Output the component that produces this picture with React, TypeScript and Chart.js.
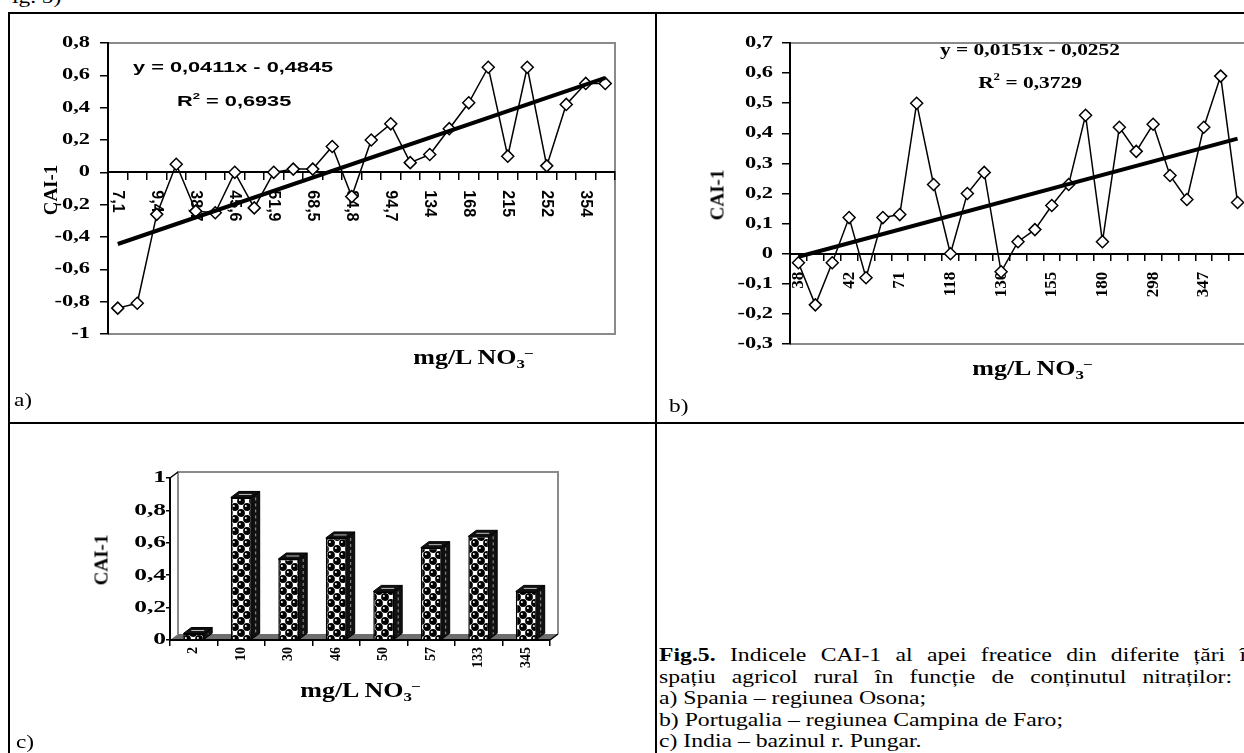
import React, { useEffect, useRef } from 'react';
import { Chart, registerables } from 'chart.js';

Chart.register(...registerables);

// ---------------- data ----------------
// a) Spania – regiunea Osona
const categoriesA = ['7,1', '', '9,4', '', '38,7', '', '45,6', '', '51,9', '', '68,5', '', '84,8', '', '94,7', '', '134', '', '168', '', '215', '', '252', '', '354', ''];
const valuesA = [-0.84, -0.81, -0.26, 0.05, -0.24, -0.25, 0, -0.22, 0, 0.02, 0.02, 0.16, -0.15, 0.2, 0.3, 0.06, 0.11, 0.27, 0.43, 0.65, 0.1, 0.65, 0.04, 0.42, 0.55, 0.55];
const trendCoefA = [0.0411, -0.4845]; // y = 0,0411x - 0,4845
const yRangeA = [-1, 0.8, 0.2];

// b) Portugalia – regiunea Campina de Faro
const categoriesB = ['38', '', '', '42', '', '', '71', '', '', '118', '', '', '130', '', '', '155', '', '', '180', '', '', '298', '', '', '347', '', ''];
const valuesB = [-0.03, -0.17, -0.03, 0.12, -0.08, 0.12, 0.13, 0.5, 0.23, 0, 0.2, 0.27, -0.06, 0.04, 0.08, 0.16, 0.23, 0.46, 0.04, 0.42, 0.34, 0.43, 0.26, 0.18, 0.42, 0.59, 0.17];
const trendCoefB = [0.0151, -0.0252]; // y = 0,0151x - 0,0252
const yRangeB = [-0.3, 0.7, 0.1];

// c) India – bazinul r. Pungar
const categoriesC = ['2', '10', '30', '46', '50', '57', '133', '345'];
const valuesC = [0.04, 0.88, 0.5, 0.63, 0.3, 0.57, 0.64, 0.3];
const yRangeC = [0, 1, 0.2];

const SERIF = "'Liberation Serif', 'Times New Roman', serif";
const SANS = "'Liberation Sans', Arial, sans-serif";

const fmt = (v: number) => {
  const r = Math.round(v * 10) / 10;
  return r === 0 ? '0' : String(r).replace('.', ',');
};

function drawText(ctx: any, text: string, x: number, y: number, font: string, align: string, sx = 1, rot = 0) {
  ctx.save();
  ctx.translate(x, y);
  if (rot) ctx.rotate(rot);
  if (sx !== 1) ctx.scale(sx, 1);
  ctx.font = font;
  ctx.fillStyle = '#000';
  ctx.textAlign = align;
  ctx.textBaseline = 'middle';
  ctx.fillText(text, 0, 0);
  ctx.restore();
}

function LineChart({ spec }: any) {
  const ref = useRef<HTMLCanvasElement>(null);
  useEffect(() => {
    const { cats, values, trend, yRange } = spec;
    const n = cats.length;
    const trendData = cats.map((_: string, i: number) => (i === 0 || i === n - 1 ? trend[0] * (i + 1) + trend[1] : null));
    const plugin = {
      id: 'decor',
      beforeDraw(chart: any) {
        const { ctx, chartArea: ca } = chart;
        ctx.save();
        ctx.strokeStyle = '#8a8a8a';
        ctx.lineWidth = 2;
        ctx.beginPath();
        ctx.moveTo(ca.left, ca.top);
        ctx.lineTo(ca.right, ca.top);
        ctx.lineTo(ca.right, ca.bottom);
        ctx.lineTo(ca.left, ca.bottom);
        ctx.stroke();
        ctx.restore();
      },
      beforeDatasetsDraw(chart: any) {
        const { ctx, chartArea: ca, scales } = chart;
        const x = scales.x;
        const y = scales.y;
        y.ticks.forEach((t: any) => drawText(ctx, fmt(t.value), ca.left - spec.yGap, y.getPixelForValue(t.value), spec.yFont, 'right', spec.ySx));
        const y0 = y.getPixelForValue(0);
        cats.forEach((c: string, i: number) => {
          if (!c) return;
          drawText(ctx, c, x.getPixelForValue(i), y0 + spec.xOffset, spec.xFont, spec.xAlign, 1, spec.xRot);
        });
      },
    };
    const chart = new Chart(ref.current as any, {
      type: 'line',
      data: {
        labels: cats,
        datasets: [
          { data: trendData, borderColor: '#000', borderWidth: 4, pointRadius: 0, spanGaps: true, fill: false },
          {
            data: values, borderColor: '#000', borderWidth: 1.5, pointStyle: 'rectRot', pointRadius: 6,
            pointBackgroundColor: '#fff', pointBorderColor: '#000', pointBorderWidth: 1.5, fill: false, tension: 0,
          },
        ],
      },
      options: {
        animation: false,
        responsive: false,
        events: [],
        layout: { padding: spec.padding },
        plugins: { legend: { display: false }, tooltip: { enabled: false } },
        scales: {
          x: {
            type: 'category',
            position: { y: 0 },
            offset: true,
            grid: { offset: true, drawOnChartArea: false, tickLength: spec.xTick, color: '#000', lineWidth: 1.5 },
            border: { color: '#000', width: 2 },
            ticks: { display: false },
          },
          y: {
            min: yRange[0], max: yRange[1],
            ticks: { stepSize: yRange[2], display: false },
            grid: { drawOnChartArea: false, tickLength: 8, color: '#000', lineWidth: 1.5 },
            border: { color: '#000', width: 2 },
          },
        },
      } as any,
      plugins: [plugin],
    });
    return () => chart.destroy();
  }, []);
  return (
    <canvas
      ref={ref}
      width={spec.w}
      height={spec.h}
      style={{ position: 'absolute', left: spec.left, top: spec.top, width: spec.w, height: spec.h }}
    />
  );
}

function makePattern() {
  const S = 12;
  const c = document.createElement('canvas');
  c.width = S;
  c.height = S;
  const g = c.getContext('2d') as CanvasRenderingContext2D;
  g.fillStyle = '#fff';
  g.fillRect(0, 0, S, S);
  const centers = [[3, 3], [9, 9]];
  g.fillStyle = '#000';
  centers.forEach(([bx, by]) => {
    for (const ox of [-S, 0, S]) {
      for (const oy of [-S, 0, S]) {
        g.beginPath();
        g.arc(bx + ox, by + oy, 3.9, 0, Math.PI * 2);
        g.fill();
      }
    }
  });
  g.fillStyle = '#fff';
  centers.forEach(([bx, by]) => {
    g.beginPath();
    g.arc(bx - 1.1, by - 1.1, 1, 0, Math.PI * 2);
    g.fill();
  });
  const ctx = document.createElement('canvas').getContext('2d') as CanvasRenderingContext2D;
  return ctx.createPattern(c, 'repeat');
}

function BarChart3D() {
  const ref = useRef<HTMLCanvasElement>(null);
  const W = 640, H = 320;
  useEffect(() => {
    const dx = 8, dy = -6;
    const plugin = {
      id: 'depth',
      beforeDraw(chart: any) {
        const { ctx, chartArea: ca } = chart;
        ctx.save();
        ctx.fillStyle = '#6e6e6e';
        ctx.beginPath();
        ctx.moveTo(ca.left, ca.bottom);
        ctx.lineTo(ca.right, ca.bottom);
        ctx.lineTo(ca.right + dx, ca.bottom + dy);
        ctx.lineTo(ca.left + dx, ca.bottom + dy);
        ctx.closePath();
        ctx.fill();
        ctx.strokeStyle = '#8a8a8a';
        ctx.lineWidth = 2;
        ctx.beginPath();
        ctx.moveTo(ca.left + dx, ca.bottom + dy);
        ctx.lineTo(ca.left + dx, ca.top + dy);
        ctx.lineTo(ca.right + dx, ca.top + dy);
        ctx.lineTo(ca.right + dx, ca.bottom + dy);
        ctx.stroke();
        ctx.strokeStyle = '#000';
        ctx.lineWidth = 1.5;
        ctx.beginPath();
        ctx.moveTo(ca.left, ca.top);
        ctx.lineTo(ca.left + dx, ca.top + dy);
        ctx.moveTo(ca.right, ca.bottom);
        ctx.lineTo(ca.right + dx, ca.bottom + dy);
        ctx.stroke();
        ctx.restore();
      },
      afterDatasetsDraw(chart: any) {
        const { ctx, chartArea: ca, scales } = chart;
        const meta = chart.getDatasetMeta(0);
        ctx.save();
        meta.data.forEach((el: any) => {
          const { x, y, base, width } = el.getProps(['x', 'y', 'base', 'width'], true);
          const l = x - width / 2;
          const r = x + width / 2;
          // side face
          ctx.fillStyle = '#111';
          ctx.strokeStyle = '#000';
          ctx.lineWidth = 1;
          ctx.beginPath();
          ctx.moveTo(r, y);
          ctx.lineTo(r + dx, y + dy);
          ctx.lineTo(r + dx, base + dy);
          ctx.lineTo(r, base);
          ctx.closePath();
          ctx.fill();
          ctx.stroke();
          ctx.strokeStyle = '#9a9a9a';
          ctx.setLineDash([3, 3]);
          ctx.beginPath();
          ctx.moveTo(r + dx / 2, y + dy / 2 + 3);
          ctx.lineTo(r + dx / 2, base + dy / 2 - 2);
          ctx.stroke();
          ctx.setLineDash([]);
          // top face
          ctx.fillStyle = '#111';
          ctx.strokeStyle = '#000';
          ctx.beginPath();
          ctx.moveTo(l, y);
          ctx.lineTo(r, y);
          ctx.lineTo(r + dx, y + dy);
          ctx.lineTo(l + dx, y + dy);
          ctx.closePath();
          ctx.fill();
          ctx.stroke();
          ctx.strokeStyle = '#bdbdbd';
          ctx.beginPath();
          ctx.moveTo(l + dx / 2 + 4, y + dy / 2);
          ctx.lineTo(r + dx / 2 - 4, y + dy / 2);
          ctx.stroke();
        });
        ctx.restore();
        const yS = scales.y;
        const xS = scales.x;
        yS.ticks.forEach((t: any) => drawText(ctx, fmt(t.value), ca.left - 4, yS.getPixelForValue(t.value), `bold 17px ${SERIF}`, 'right', 1.5));
        const y0 = yS.getPixelForValue(0);
        categoriesC.forEach((c, i) => drawText(ctx, c, xS.getPixelForValue(i), y0 + 7, `bold 14px ${SERIF}`, 'right', 1, -Math.PI / 2));
      },
    };
    const chart = new Chart(ref.current as any, {
      type: 'bar',
      data: {
        labels: categoriesC,
        datasets: [{
          data: valuesC, backgroundColor: makePattern() as any, borderColor: '#000', borderWidth: 1.5,
          barPercentage: 0.44, categoryPercentage: 1,
        }],
      },
      options: {
        animation: false,
        responsive: false,
        events: [],
        layout: { padding: { left: 156, top: 52, right: 100, bottom: 106 } },
        plugins: { legend: { display: false }, tooltip: { enabled: false } },
        scales: {
          x: {
            position: { y: 0 },
            offset: true,
            grid: { offset: true, drawOnChartArea: false, tickLength: 5, color: '#000', lineWidth: 1.5 },
            border: { color: '#000', width: 2 },
            ticks: { display: false },
          },
          y: {
            min: yRangeC[0], max: yRangeC[1],
            ticks: { stepSize: yRangeC[2], display: false },
            grid: { drawOnChartArea: false, tickLength: 4, color: '#000', lineWidth: 1.5 },
            border: { color: '#000', width: 2 },
          },
        },
      } as any,
      plugins: [plugin],
    });
    return () => chart.destroy();
  }, []);
  return <canvas ref={ref} width={W} height={H} style={{ position: 'absolute', left: 10, top: 426, width: W, height: H }} />;
}

function Txt({ x, y, anchor = 'left', sx = 1, family = SERIF, size = 18, weight = 400, rotate = 0, children }: any) {
  const tx = anchor === 'left' ? 0 : anchor === 'right' ? -100 : -50;
  const origin = rotate ? 'center center' : anchor === 'left' ? 'left center' : anchor === 'right' ? 'right center' : 'center center';
  return (
    <div
      style={{
        position: 'absolute', left: x, top: y, whiteSpace: 'nowrap', lineHeight: 1,
        fontFamily: family, fontSize: size, fontWeight: weight, color: '#000',
        transformOrigin: origin,
        transform: rotate ? `translate(-50%, -50%) rotate(${rotate}deg)` : `translate(${tx}%, -50%) scaleX(${sx})`,
      }}
    >
      {children}
    </div>
  );
}

const supS: any = { fontSize: '0.6em', verticalAlign: '0.7em', lineHeight: 0 };
const subS: any = { fontSize: '0.65em', verticalAlign: '-0.3em', lineHeight: 0 };

const Unit = () => (
  <>mg/L NO<span style={subS}>3</span><span style={supS}>–</span></>
);

const specA = {
  cats: categoriesA, values: valuesA, trend: trendCoefA, yRange: yRangeA,
  left: 10, top: 15, w: 640, h: 400, padding: { left: 90, top: 28, right: 35, bottom: 81 },
  yFont: `bold 16px ${SERIF}`, ySx: 1.4, yGap: 18,
  xFont: `bold 16px ${SANS}`, xRot: Math.PI / 2, xAlign: 'left', xOffset: 18, xTick: 7,
};
const specB = {
  cats: categoriesB, values: valuesB, trend: trendCoefB, yRange: yRangeB,
  left: 658, top: 15, w: 600, h: 400, padding: { left: 124, top: 28, right: 12, bottom: 71 },
  yFont: `bold 16px ${SERIF}`, ySx: 1.4, yGap: 17,
  xFont: `bold 17px ${SERIF}`, xRot: -Math.PI / 2, xAlign: 'right', xOffset: 18, xTick: 6,
};

const SX_CAP = 1.27;
const justifyLine = (endX: number): any => ({
  width: (endX - 659) / SX_CAP, textAlign: 'justify', textAlignLast: 'justify',
});

export default function App() {
  const line = (style: any) => <div style={{ position: 'absolute', background: '#000', ...style }} />;
  return (
    <div style={{ position: 'fixed', left: 0, top: 0, width: 1244, height: 753, overflow: 'hidden', background: '#fff' }}>
      <Txt x={12} y={-3} sx={1.25} size={18.67}>ig. 5)</Txt>
      {line({ left: 8, top: 12, width: 1240, height: 2 })}
      {line({ left: 8, top: 12, width: 2, height: 745 })}
      {line({ left: 655, top: 12, width: 2, height: 745 })}
      {line({ left: 8, top: 422, width: 1240, height: 2 })}

      <LineChart spec={specA} />
      <LineChart spec={specB} />
      <BarChart3D />

      {/* chart a texts */}
      <Txt x={133} y={66} family={SANS} size={15} weight={700} sx={1.45}>y = 0,0411x - 0,4845</Txt>
      <Txt x={177} y={100} family={SANS} size={15} weight={700} sx={1.45}>R<span style={supS}>2</span> = 0,6935</Txt>
      <Txt x={50} y={190} size={19} weight={700} rotate={-90}>CAI-1</Txt>
      <Txt x={473} y={357} anchor="center" size={20} weight={700} sx={1.3}><Unit /></Txt>
      <Txt x={14} y={400} sx={1.25} size={18.67}>a)</Txt>

      {/* chart b texts */}
      <Txt x={1030} y={49} anchor="center" size={17} weight={700} sx={1.26}>y = 0,0151x - 0,0252</Txt>
      <Txt x={1030} y={82} anchor="center" size={17} weight={700} sx={1.26}>R<span style={supS}>2</span> = 0,3729</Txt>
      <Txt x={717} y={195} size={19} weight={700} rotate={-90}>CAI-1</Txt>
      <Txt x={1032} y={368} anchor="center" size={20} weight={700} sx={1.3}><Unit /></Txt>
      <Txt x={669} y={406} sx={1.25} size={18.67}>b)</Txt>

      {/* chart c texts */}
      <Txt x={101} y={560} size={19} weight={700} rotate={-90}>CAI-1</Txt>
      <Txt x={360} y={690} anchor="center" size={20} weight={700} sx={1.3}><Unit /></Txt>
      <Txt x={16} y={742} sx={1.25} size={18.67}>c)</Txt>

      {/* caption */}
      <div
        style={{
          position: 'absolute', left: 659, top: 644, fontFamily: SERIF, fontSize: 18.67, lineHeight: '21.5px',
          whiteSpace: 'nowrap', transform: `scaleX(${SX_CAP})`, transformOrigin: 'left top', color: '#000',
        }}
      >
        <div style={justifyLine(1258)}><b>Fig.5.</b> Indicele CAI-1 al apei freatice din diferite țări în</div>
        <div style={justifyLine(1232)}>spațiu agricol rural în funcție de conținutul nitraților:</div>
        <div>a) Spania – regiunea Osona;</div>
        <div>b) Portugalia – regiunea Campina de Faro;</div>
        <div>c) India – bazinul r. Pungar.</div>
      </div>
    </div>
  );
}
